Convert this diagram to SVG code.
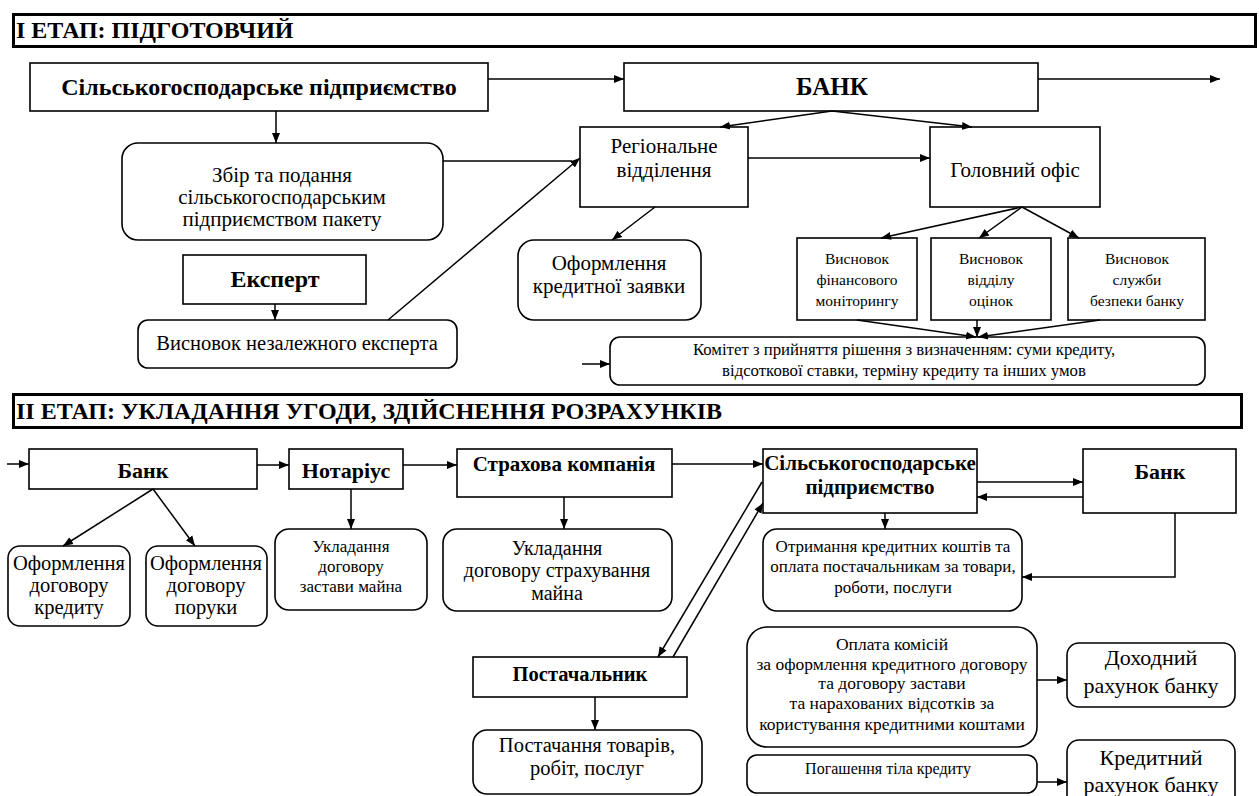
<svg xmlns="http://www.w3.org/2000/svg" width="1259" height="796" viewBox="0 0 1259 796">
  <style>
    .box { fill: #fff; stroke: #000; stroke-width: 1.6; }
    .hdr { fill: #fff; stroke: #000; stroke-width: 3; }
    .t { font-family: 'Liberation Serif', 'Times New Roman', 'DejaVu Serif', serif; fill: #000; text-anchor: middle; }
    .l { text-anchor: start; }
    .b { font-weight: bold; }
    .ln { fill: none; stroke: #000; stroke-width: 1.5; }
    .arr { marker-end: url(#ah); }
  </style>
  <defs>
    <marker id="ah" viewBox="0 0 10 10" refX="10" refY="5" markerWidth="10" markerHeight="10" markerUnits="userSpaceOnUse" orient="auto">
      <path d="M0,1 L10,5 L0,9 z" fill="#000"/>
    </marker>
  </defs>
  <rect width="1259" height="796" fill="#fff"/>

  <!-- Stage I -->
  <g id="stage1-header">
    <rect class="hdr" x="13.5" y="14.5" width="1242" height="32"/>
    <text class="t l b" x="16" y="38" font-size="24">І ЕТАП: ПІДГОТОВЧИЙ</text>
  </g>

  <g id="n-farm">
    <rect class="box" x="30" y="63" width="458" height="48"/>
    <text class="t b" x="259" y="95" font-size="24">Сільськогосподарське підприємство</text>
  </g>
  <g id="n-bank">
    <rect class="box" x="624" y="63" width="414" height="48"/>
    <text class="t b" x="832" y="95" font-size="25">БАНК</text>
  </g>
  <g id="n-regional">
    <rect class="box" x="580" y="127" width="168" height="80"/>
    <text class="t" x="664" y="153" font-size="21">Регіональне</text>
    <text class="t" x="664" y="177" font-size="21">відділення</text>
  </g>
  <g id="n-head-office">
    <rect class="box" x="930" y="127" width="170" height="80"/>
    <text class="t" x="1015" y="177" font-size="21">Головний офіс</text>
  </g>
  <g id="n-package">
    <rect class="box" x="122" y="143" width="321" height="97" rx="16"/>
    <text class="t" x="282" y="182" font-size="21">Збір та подання</text>
    <text class="t" x="282" y="204" font-size="21">сільськогосподарським</text>
    <text class="t" x="282" y="226" font-size="21">підприємством пакету</text>
  </g>
  <g id="n-expert">
    <rect class="box" x="183" y="255" width="183" height="49"/>
    <text class="t b" x="275" y="287" font-size="24">Експерт</text>
  </g>
  <g id="n-expert-opinion">
    <rect class="box" x="138" y="320" width="319" height="48" rx="10"/>
    <text class="t" x="297" y="350" font-size="20.5">Висновок незалежного експерта</text>
  </g>
  <g id="n-application">
    <rect class="box" x="518" y="240" width="183" height="80" rx="16"/>
    <text class="t" x="609" y="270" font-size="21">Оформлення</text>
    <text class="t" x="609" y="293" font-size="21">кредитної заявки</text>
  </g>
  <g id="n-fin-monitoring">
    <rect class="box" x="797" y="238" width="120" height="82"/>
    <text class="t" x="857" y="264" font-size="15.5">Висновок</text>
    <text class="t" x="857" y="285" font-size="15.5">фінансового</text>
    <text class="t" x="857" y="306" font-size="15.5">моніторингу</text>
  </g>
  <g id="n-valuation">
    <rect class="box" x="931" y="238" width="120" height="82"/>
    <text class="t" x="991" y="264" font-size="15.5">Висновок</text>
    <text class="t" x="991" y="285" font-size="15.5">відділу</text>
    <text class="t" x="991" y="306" font-size="15.5">оцінок</text>
  </g>
  <g id="n-security">
    <rect class="box" x="1068" y="238" width="137" height="82"/>
    <text class="t" x="1137" y="264" font-size="15.5">Висновок</text>
    <text class="t" x="1137" y="285" font-size="15.5">служби</text>
    <text class="t" x="1137" y="306" font-size="15.5">безпеки банку</text>
  </g>
  <g id="n-committee">
    <rect class="box" x="610" y="337" width="595" height="48" rx="10"/>
    <text class="t" x="904" y="355" font-size="16.8">Комітет з прийняття рішення з визначенням: суми кредиту,</text>
    <text class="t" x="904" y="376" font-size="16.8">відсоткової ставки, терміну кредиту та інших умов</text>
  </g>

  <!-- Stage II -->
  <g id="stage2-header">
    <rect class="hdr" x="13.5" y="394.5" width="1228" height="33"/>
    <text class="t l b" x="16" y="419" font-size="24">ІІ ЕТАП: УКЛАДАННЯ УГОДИ, ЗДІЙСНЕННЯ РОЗРАХУНКІВ</text>
  </g>

  <g id="n-bank2">
    <rect class="box" x="29" y="449" width="228" height="40"/>
    <text class="t b" x="143" y="478" font-size="22">Банк</text>
  </g>
  <g id="n-notary">
    <rect class="box" x="289" y="449" width="114" height="40"/>
    <text class="t b" x="346" y="478" font-size="22">Нотаріус</text>
  </g>
  <g id="n-insurer">
    <rect class="box" x="457" y="449" width="215" height="48"/>
    <text class="t b" x="564" y="471" font-size="21">Страхова компанія</text>
  </g>
  <g id="n-farm2">
    <rect class="box" x="763" y="449" width="214" height="64"/>
    <text class="t b" x="870" y="470" font-size="21">Сільськогосподарське</text>
    <text class="t b" x="870" y="494" font-size="21">підприємство</text>
  </g>
  <g id="n-bank3">
    <rect class="box" x="1083" y="449" width="153" height="64"/>
    <text class="t b" x="1160" y="479" font-size="22">Банк</text>
  </g>
  <g id="n-loan-contract">
    <rect class="box" x="8" y="546" width="122" height="80" rx="12"/>
    <text class="t" x="69" y="570" font-size="20.5">Оформлення</text>
    <text class="t" x="69" y="592" font-size="20.5">договору</text>
    <text class="t" x="69" y="614" font-size="20.5">кредиту</text>
  </g>
  <g id="n-surety-contract">
    <rect class="box" x="146" y="546" width="121" height="80" rx="12"/>
    <text class="t" x="206" y="570" font-size="20.5">Оформлення</text>
    <text class="t" x="206" y="592" font-size="20.5">договору</text>
    <text class="t" x="206" y="614" font-size="20.5">поруки</text>
  </g>
  <g id="n-pledge">
    <rect class="box" x="275" y="529" width="152" height="81" rx="14"/>
    <text class="t" x="351" y="552" font-size="17">Укладання</text>
    <text class="t" x="351" y="572" font-size="17">договору</text>
    <text class="t" x="351" y="592" font-size="17">застави майна</text>
  </g>
  <g id="n-insurance">
    <rect class="box" x="443" y="529" width="229" height="82" rx="14"/>
    <text class="t" x="557" y="555" font-size="20">Укладання</text>
    <text class="t" x="557" y="577" font-size="20">договору страхування</text>
    <text class="t" x="557" y="600" font-size="20">майна</text>
  </g>
  <g id="n-funds">
    <rect class="box" x="763" y="529" width="259" height="82" rx="14"/>
    <text class="t" x="893" y="552" font-size="17">Отримання кредитних коштів та</text>
    <text class="t" x="893" y="572" font-size="17">оплата постачальникам за товари,</text>
    <text class="t" x="893" y="593" font-size="17">роботи, послуги</text>
  </g>
  <g id="n-supplier">
    <rect class="box" x="473" y="657" width="214" height="40"/>
    <text class="t b" x="580" y="681" font-size="20.5">Постачальник</text>
  </g>
  <g id="n-delivery">
    <rect class="box" x="473" y="730" width="229" height="64" rx="14"/>
    <text class="t" x="587" y="752" font-size="20.5">Постачання товарів,</text>
    <text class="t" x="587" y="775" font-size="20.5">робіт, послуг</text>
  </g>
  <g id="n-fees">
    <rect class="box" x="747" y="627" width="290" height="120" rx="20"/>
    <text class="t" x="892" y="650" font-size="17.5">Оплата комісій</text>
    <text class="t" x="892" y="670" font-size="17.5">за оформлення кредитного договору</text>
    <text class="t" x="892" y="689" font-size="17.5">та договору застави</text>
    <text class="t" x="892" y="709" font-size="17.5">та нарахованих відсотків за</text>
    <text class="t" x="892" y="730" font-size="17.5">користування кредитними коштами</text>
  </g>
  <g id="n-repayment">
    <rect class="box" x="747" y="755" width="290" height="38" rx="10"/>
    <text class="t" x="888" y="774" font-size="16">Погашення тіла кредиту</text>
  </g>
  <g id="n-income-account">
    <rect class="box" x="1067" y="643" width="168" height="64" rx="12"/>
    <text class="t" x="1151" y="665" font-size="22">Доходний</text>
    <text class="t" x="1151" y="693" font-size="22">рахунок банку</text>
  </g>
  <g id="n-credit-account">
    <rect class="box" x="1067" y="740" width="168" height="70" rx="12"/>
    <text class="t" x="1151" y="765" font-size="22">Кредитний</text>
    <text class="t" x="1151" y="792" font-size="22">рахунок банку</text>
  </g>

  <g id="connectors">
    <!-- stage I -->
    <line class="ln arr" x1="488" y1="79" x2="624" y2="79"/>
    <line class="ln arr" x1="1038" y1="79" x2="1220" y2="79"/>
    <line class="ln arr" x1="832" y1="111" x2="720" y2="127"/>
    <line class="ln arr" x1="832" y1="111" x2="972" y2="127"/>
    <line class="ln arr" x1="748" y1="158" x2="930" y2="158"/>
    <line class="ln arr" x1="276" y1="111" x2="276" y2="143"/>
    <line class="ln" x1="443" y1="161" x2="572" y2="161"/>
    <line class="ln arr" x1="388" y1="320" x2="580" y2="158"/>
    <line class="ln arr" x1="275" y1="304" x2="275" y2="320"/>
    <line class="ln arr" x1="655" y1="207" x2="612" y2="240"/>
    <line class="ln arr" x1="1022" y1="207" x2="881" y2="238"/>
    <line class="ln arr" x1="1022" y1="207" x2="979" y2="238"/>
    <line class="ln arr" x1="1022" y1="207" x2="1079" y2="238"/>
    <line class="ln arr" x1="857" y1="320" x2="976" y2="337"/>
    <line class="ln arr" x1="977" y1="320" x2="977" y2="337"/>
    <line class="ln arr" x1="1100" y1="320" x2="978" y2="337"/>
    <line class="ln arr" x1="582" y1="364" x2="610" y2="364"/>
    <!-- stage II -->
    <line class="ln arr" x1="7" y1="464" x2="29" y2="464"/>
    <line class="ln arr" x1="257" y1="465" x2="289" y2="465"/>
    <line class="ln arr" x1="403" y1="465" x2="457" y2="465"/>
    <line class="ln arr" x1="672" y1="464" x2="763" y2="464"/>
    <line class="ln arr" x1="977" y1="482" x2="1083" y2="482"/>
    <line class="ln arr" x1="1083" y1="497" x2="977" y2="497"/>
    <path class="ln arr" d="M1175,513 V577 H1022"/>
    <line class="ln arr" x1="885" y1="513" x2="885" y2="529"/>
    <line class="ln arr" x1="153" y1="489" x2="63" y2="546"/>
    <line class="ln arr" x1="153" y1="489" x2="195" y2="546"/>
    <line class="ln arr" x1="351" y1="489" x2="351" y2="529"/>
    <line class="ln arr" x1="564" y1="497" x2="564" y2="529"/>
    <line class="ln arr" x1="762" y1="482" x2="658" y2="657"/>
    <line class="ln arr" x1="673" y1="657" x2="763" y2="503"/>
    <line class="ln arr" x1="595" y1="697" x2="595" y2="730"/>
    <line class="ln arr" x1="1037" y1="680" x2="1067" y2="680"/>
    <line class="ln arr" x1="1037" y1="782" x2="1067" y2="782"/>
  </g>
</svg>
